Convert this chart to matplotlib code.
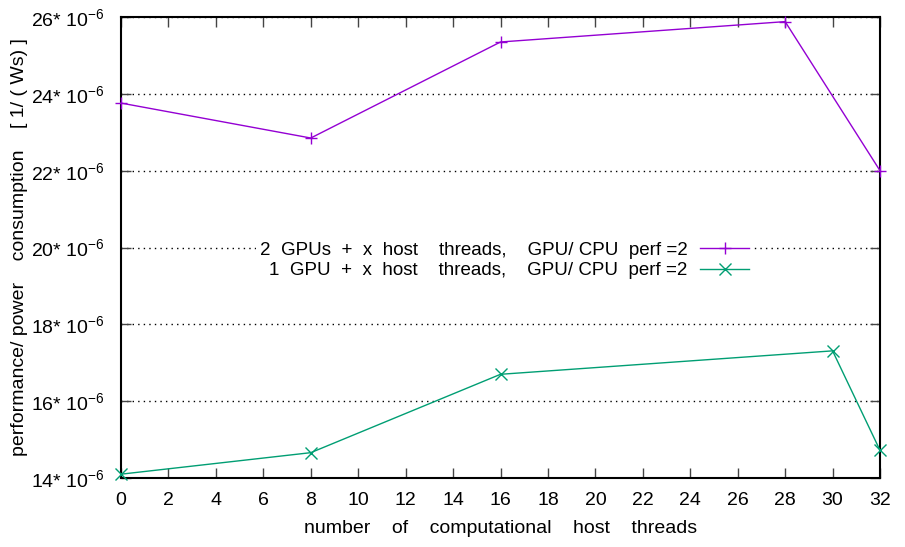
import matplotlib
matplotlib.use("Agg")
import matplotlib.pyplot as plt

plt.rcParams['font.family'] = ['Liberation Sans', 'DejaVu Sans']
plt.rcParams['mathtext.fontset'] = 'custom'
plt.rcParams['mathtext.rm'] = 'Liberation Sans'
plt.rcParams['mathtext.it'] = 'Liberation Sans'

# host threads vs performance per power (units of 1e-6 / Ws)
threads_2gpu = [0, 8, 16, 28, 32]
perf_2gpu = [23.76, 22.85, 25.35, 25.88, 22.0]

threads_1gpu = [0, 8, 16, 30, 32]
perf_1gpu = [14.1, 14.66, 16.7, 17.31, 14.72]

label_2gpu = "2  GPUs  +  x  host    threads,    GPU/ CPU  perf =2"
label_1gpu = "1  GPU  +  x  host    threads,    GPU/ CPU  perf =2"

x_ticks = list(range(0, 33, 2))
y_ticks = [14, 16, 18, 20, 22, 24, 26]

fig = plt.figure(figsize=(9.05, 5.47), dpi=100)
ax = fig.add_axes([0.1337, 0.1261, 0.9724 - 0.1337, 0.9689 - 0.1261])

ax.plot(threads_2gpu, perf_2gpu, color='#9400D3', lw=1.0, marker='+',
        markersize=9, markeredgewidth=1.0, label=label_2gpu, clip_on=False, zorder=3)
ax.plot(threads_1gpu, perf_1gpu, color='#009E73', lw=1.0, marker='x',
        markersize=8, markeredgewidth=1.0, label=label_1gpu, clip_on=False, zorder=3)

ax.set_xlim(0, 32)
ax.set_ylim(14, 26)
ax.set_xticks(x_ticks)
ax.set_yticks(y_ticks)
ax.set_yticklabels([f"{v}* 10$^{{-6}}$" for v in y_ticks])

ax.tick_params(direction='in', length=7, width=1.0, top=True, right=True,
               labelsize=14, pad=10, color='#444444')
ax.tick_params(axis='y', pad=12)
for s in ax.spines.values():
    s.set_linewidth(1.5)

ax.yaxis.grid(True, color='black', linestyle=(0, (1, 3)), linewidth=1.0)
ax.set_axisbelow(True)

ax.set_xlabel("number    of    computational    host    threads", fontsize=14, labelpad=8)
ax.set_ylabel("performance/ power    consumption    [ 1/ ( Ws) ]", fontsize=14, labelpad=2)

leg = ax.legend(loc='center right', bbox_to_anchor=(0.845, 0.472), markerfirst=False,
                fontsize=13.5, frameon=True, framealpha=1, edgecolor='none',
                facecolor='white', handlelength=2.6, handletextpad=0.7,
                labelspacing=0.2, borderpad=0.2, fancybox=False)

fig.savefig("out.png", dpi=100)
